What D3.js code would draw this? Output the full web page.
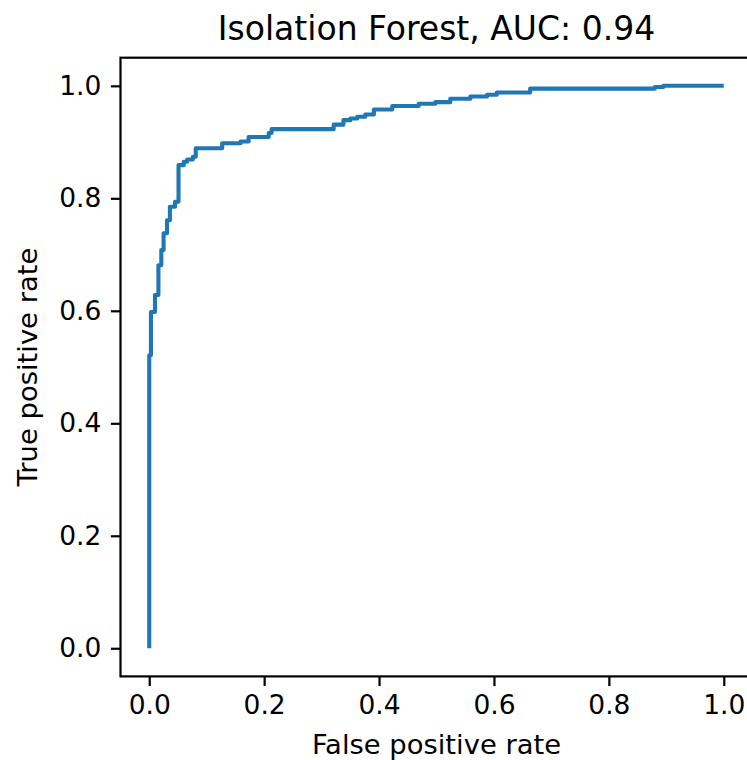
<!DOCTYPE html>
<html>
<head>
<meta charset="utf-8">
<script src="https://cdn.jsdelivr.net/npm/d3@7/dist/d3.min.js"></script>
<style>
  html, body { margin: 0; padding: 0; background: #fff; }
  svg { display: block; font-family: "DejaVu Sans", sans-serif; }
</style>
</head>
<body>
<script>
// ROC curve vertices (false positive rate, true positive rate)
const fpr = [0, 0, 0.003, 0.003, 0.010, 0.010, 0.016, 0.016, 0.021, 0.021,
  0.025, 0.025, 0.031, 0.031, 0.036, 0.036, 0.045, 0.045, 0.051, 0.051,
  0.060, 0.060, 0.066, 0.066, 0.076, 0.076, 0.081, 0.081, 0.127, 0.127,
  0.159, 0.159, 0.173, 0.173, 0.208, 0.208, 0.213, 0.213, 0.321, 0.321,
  0.338, 0.338, 0.350, 0.350, 0.362, 0.362, 0.376, 0.376, 0.391, 0.391,
  0.423, 0.423, 0.469, 0.469, 0.498, 0.498, 0.524, 0.524, 0.559, 0.559,
  0.588, 0.588, 0.605, 0.605, 0.663, 0.663, 0.880, 0.880, 0.895, 0.895, 1.0];
const tpr = [0, 0.521, 0.521, 0.598, 0.598, 0.628, 0.628, 0.681, 0.681, 0.708,
  0.708, 0.738, 0.738, 0.761, 0.761, 0.785, 0.785, 0.794, 0.794, 0.859,
  0.859, 0.865, 0.865, 0.869, 0.869, 0.874, 0.874, 0.889, 0.889, 0.898,
  0.898, 0.901, 0.901, 0.909, 0.909, 0.916, 0.916, 0.923, 0.923, 0.931,
  0.931, 0.939, 0.939, 0.942, 0.942, 0.945, 0.945, 0.949, 0.949, 0.958,
  0.958, 0.964, 0.964, 0.968, 0.968, 0.971, 0.971, 0.977, 0.977, 0.981,
  0.981, 0.984, 0.984, 0.988, 0.988, 0.995, 0.995, 0.998, 0.998, 1.0, 1.0];
const tickValues = [0, 0.2, 0.4, 0.6, 0.8, 1.0];
const titleText = "Isolation Forest, AUC: 0.94";
const xLabel = "False positive rate";
const yLabel = "True positive rate";

const W = 747, H = 760;
const plot = { left: 120.5, right: 752.5, top: 57.7, bottom: 676.4 };
const tickLen = 9.6, tickPad = 9.6;
const fontTick = 26.5, fontLabel = 27.4, fontTitle = 33;

const svg = d3.select("body").append("svg")
  .attr("width", W).attr("height", H);

const x = d3.scaleLinear().domain([-0.05, 1.05]).range([plot.left, plot.right]);
const y = d3.scaleLinear().domain([-0.05, 1.05]).range([plot.bottom, plot.top]);

// ROC line
const pts = fpr.map((f, i) => [f, tpr[i]]);
svg.append("path")
  .datum(pts)
  .attr("fill", "none")
  .attr("stroke", "#1f77b4")
  .attr("stroke-width", 4.1)
  .attr("stroke-linejoin", "round")
  .attr("stroke-linecap", "butt")
  .attr("d", d3.line().x(d => x(d[0])).y(d => y(d[1])));

// Axes
const fmt = d3.format(".1f");
const xAxis = svg.append("g")
  .attr("transform", `translate(0,${plot.bottom})`)
  .call(d3.axisBottom(x).tickValues(tickValues).tickFormat(fmt)
    .tickSizeInner(tickLen).tickSizeOuter(0).tickPadding(tickPad));
const yAxis = svg.append("g")
  .attr("transform", `translate(${plot.left},0)`)
  .call(d3.axisLeft(y).tickValues(tickValues).tickFormat(fmt)
    .tickSizeInner(tickLen).tickSizeOuter(0).tickPadding(tickPad));

[xAxis, yAxis].forEach(g => {
  g.select(".domain").remove();
  g.selectAll(".tick line").attr("stroke", "#000").attr("stroke-width", 2.2);
  g.selectAll(".tick text").attr("fill", "#000")
    .style("font-size", fontTick + "px")
    .style("font-family", "'DejaVu Sans', sans-serif");
});

// Frame
svg.append("rect")
  .attr("x", plot.left).attr("y", plot.top)
  .attr("width", plot.right - plot.left)
  .attr("height", plot.bottom - plot.top)
  .attr("fill", "none").attr("stroke", "#000").attr("stroke-width", 2.2);

// Title and axis labels
const cx = (plot.left + plot.right) / 2;
const cy = (plot.top + plot.bottom) / 2;
svg.append("text")
  .attr("x", cx).attr("y", 40)
  .attr("text-anchor", "middle")
  .style("font-size", fontTitle + "px")
  .attr("fill", "#000")
  .text(titleText);

svg.append("text")
  .attr("x", cx).attr("y", 754)
  .attr("text-anchor", "middle")
  .style("font-size", fontLabel + "px")
  .attr("fill", "#000")
  .text(xLabel);

svg.append("text")
  .attr("transform", `translate(37,${cy}) rotate(-90)`)
  .attr("text-anchor", "middle")
  .style("font-size", fontLabel + "px")
  .attr("fill", "#000")
  .text(yLabel);
</script>
</body>
</html>
